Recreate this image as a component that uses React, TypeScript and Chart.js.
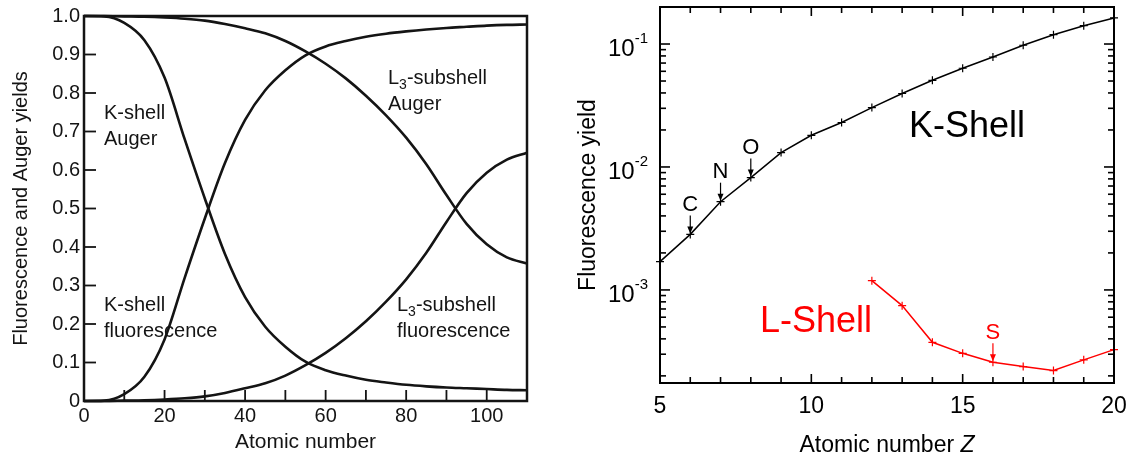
import React, { useEffect, useRef } from 'react';
import { Chart, registerables } from 'chart.js';

Chart.register(...registerables);

const FONT = '"Liberation Sans", Arial, Helvetica, sans-serif';
const INK = '#141414';
const RED = '#ff0000';

// ---------- Left panel: yields vs atomic number ----------
const zLeft = [0, 5, 10, 15, 20, 25, 30, 35, 40, 45, 50, 55, 60, 65, 70, 75, 80, 85, 90, 95, 100, 105, 110];
const kShellFluorescence = [0, 0.001, 0.018, 0.063, 0.16, 0.32, 0.474, 0.618, 0.73, 0.807, 0.859, 0.898, 0.921, 0.935, 0.946, 0.954, 0.96, 0.965, 0.969, 0.972, 0.975, 0.977, 0.978];
const kShellAuger = [1, 0.999, 0.982, 0.937, 0.84, 0.68, 0.526, 0.382, 0.27, 0.193, 0.141, 0.102, 0.08, 0.066, 0.055, 0.048, 0.042, 0.038, 0.035, 0.033, 0.031, 0.029, 0.028];
const l3Fluorescence = [0, 0, 0.001, 0.002, 0.004, 0.007, 0.012, 0.021, 0.033, 0.046, 0.066, 0.093, 0.125, 0.163, 0.207, 0.258, 0.316, 0.385, 0.465, 0.54, 0.593, 0.627, 0.645];
const l3Auger = [1, 1, 0.999, 0.998, 0.996, 0.993, 0.988, 0.979, 0.968, 0.955, 0.935, 0.908, 0.876, 0.838, 0.793, 0.742, 0.684, 0.615, 0.535, 0.46, 0.407, 0.373, 0.357];
const leftXLabels = [0, 20, 40, 60, 80, 100];
const leftXTicks = [10, 20, 30, 40, 50, 60, 70, 80, 90, 100];
const leftYLabels = [0, 0.1, 0.2, 0.3, 0.4, 0.5, 0.6, 0.7, 0.8, 0.9, 1.0];

// ---------- Right panel: fluorescence yield, log scale ----------
const zK = [5, 6, 7, 8, 9, 10, 11, 12, 13, 14, 15, 16, 17, 18, 19, 20];
const kShellYield = [0.0017, 0.00283, 0.00522, 0.0082, 0.0131, 0.0181, 0.023, 0.0304, 0.0396, 0.0507, 0.0635, 0.0784, 0.0977, 0.119, 0.141, 0.163];
const zL = [12, 13, 14, 15, 16, 17, 18, 19, 20];
const lShellYield = [0.00119, 0.000745, 0.000375, 0.000305, 0.000258, 0.000238, 0.000221, 0.00027, 0.000327];
const rightXLabels = [5, 10, 15, 20];
const rightDecades = [1e-3, 1e-2, 1e-1];
const rightDecadeExponents = ['-3', '-2', '-1'];
const rightMinorDecades = [1e-4, 1e-3, 1e-2, 1e-1];
const rightMinorMultipliers = [2, 3, 4, 5, 6, 7, 8, 9];
const markLabels = ['C', 'N', 'O', 'S'];
const markZ = [6, 7, 8, 16];
const markShell = ['K', 'K', 'K', 'L'];

function line(ctx: CanvasRenderingContext2D, x1: number, y1: number, x2: number, y2: number) {
  ctx.beginPath();
  ctx.moveTo(x1, y1);
  ctx.lineTo(x2, y2);
  ctx.stroke();
}

function drawSubLabel(ctx: CanvasRenderingContext2D, x: number, y: number, size: number) {
  // "L3-subshell" with subscript 3
  ctx.textAlign = 'left';
  ctx.textBaseline = 'alphabetic';
  ctx.font = `${size}px ${FONT}`;
  ctx.fillText('L', x, y);
  let w = ctx.measureText('L').width;
  ctx.font = `${Math.round(size * 0.68)}px ${FONT}`;
  ctx.fillText('3', x + w, y + 5);
  w += ctx.measureText('3').width;
  ctx.font = `${size}px ${FONT}`;
  ctx.fillText('-subshell', x + w, y);
}

const leftDecor = {
  id: 'leftDecor',
  afterDraw(chart: any) {
    const { ctx, chartArea: a, scales } = chart;
    const x = scales.x;
    const y = scales.y;
    ctx.save();
    ctx.strokeStyle = INK;
    ctx.lineWidth = 2.5;
    ctx.strokeRect(a.left, a.top, a.right - a.left, a.bottom - a.top);
    ctx.lineWidth = 1.8;
    for (const v of leftYLabels) {
      const py = y.getPixelForValue(v);
      line(ctx, a.left, py, a.left + 12, py);
    }
    for (const v of leftXTicks) {
      const px = x.getPixelForValue(v);
      line(ctx, px, a.bottom, px, a.bottom - 11);
    }
    ctx.fillStyle = INK;
    const fs = 20;
    ctx.textAlign = 'left';
    ctx.textBaseline = 'alphabetic';
    ctx.font = `${fs}px ${FONT}`;
    ctx.fillText('K-shell', 104, 119);
    ctx.fillText('Auger', 104, 145);
    ctx.fillText('K-shell', 104, 311);
    ctx.fillText('fluorescence', 104, 337);
    drawSubLabel(ctx, 388, 84, fs);
    ctx.font = `${fs}px ${FONT}`;
    ctx.fillText('Auger', 388, 110);
    drawSubLabel(ctx, 397, 311, fs);
    ctx.font = `${fs}px ${FONT}`;
    ctx.fillText('fluorescence', 397, 337);
    // axis titles
    ctx.textAlign = 'center';
    ctx.font = `21px ${FONT}`;
    ctx.fillText('Atomic number', (a.left + a.right) / 2, 448);
    ctx.save();
    ctx.translate(26.5, (a.top + a.bottom) / 2);
    ctx.rotate(-Math.PI / 2);
    ctx.font = `20px ${FONT}`;
    ctx.fillText('Fluorescence and Auger yields', 0, 0);
    ctx.restore();
    ctx.restore();
  },
};

const rightDecor = {
  id: 'rightDecor',
  afterDraw(chart: any) {
    const { ctx, chartArea: a, scales } = chart;
    const x = scales.x;
    const y = scales.y;
    ctx.save();
    ctx.strokeStyle = '#000';
    ctx.lineWidth = 2;
    ctx.strokeRect(a.left, a.top, a.right - a.left, a.bottom - a.top);
    // x ticks
    ctx.lineWidth = 1.6;
    for (let v = x.min; v <= x.max; v += 1) {
      const px = x.getPixelForValue(v);
      const len = rightXLabels.includes(v) ? 9 : 6;
      line(ctx, px, a.bottom, px, a.bottom - len);
      line(ctx, px, a.top, px, a.top + len);
    }
    // y ticks
    for (const d of rightDecades) {
      const py = y.getPixelForValue(d);
      line(ctx, a.left, py, a.left + 10, py);
      line(ctx, a.right, py, a.right - 10, py);
    }
    for (const d of rightMinorDecades) {
      for (const m of rightMinorMultipliers) {
        const v = d * m;
        if (v < y.min || v > y.max) continue;
        const py = y.getPixelForValue(v);
        line(ctx, a.left, py, a.left + 6, py);
        line(ctx, a.right, py, a.right - 6, py);
      }
    }
    ctx.fillStyle = '#000';
    ctx.textBaseline = 'alphabetic';
    // x tick labels
    ctx.font = `23px ${FONT}`;
    ctx.textAlign = 'center';
    for (const v of rightXLabels) {
      ctx.fillText(String(v), x.getPixelForValue(v), a.bottom + 30);
    }
    // decade labels
    rightDecades.forEach((d, i) => {
      const py = y.getPixelForValue(d);
      const right = a.left - 12;
      ctx.font = `15px ${FONT}`;
      const sw = ctx.measureText(rightDecadeExponents[i]).width;
      ctx.textAlign = 'right';
      ctx.fillText(rightDecadeExponents[i], right, py - 1);
      ctx.font = `24px ${FONT}`;
      ctx.fillText('10', right - sw, py + 12);
    });
    // axis titles
    ctx.font = `23px ${FONT}`;
    const t1 = 'Atomic number ';
    const w1 = ctx.measureText(t1).width;
    ctx.font = `italic 23px ${FONT}`;
    const w2 = ctx.measureText('Z').width;
    const cx = (a.left + a.right) / 2;
    const start = cx - (w1 + w2) / 2;
    ctx.textAlign = 'left';
    ctx.font = `23px ${FONT}`;
    ctx.fillText(t1, start, 452);
    ctx.font = `italic 23px ${FONT}`;
    ctx.fillText('Z', start + w1, 452);
    ctx.save();
    ctx.translate(35, (a.top + a.bottom) / 2);
    ctx.rotate(-Math.PI / 2);
    ctx.textAlign = 'center';
    ctx.font = `23px ${FONT}`;
    ctx.fillText('Fluorescence yield', 0, 0);
    ctx.restore();
    // shell labels
    ctx.textAlign = 'center';
    ctx.font = `36px ${FONT}`;
    ctx.fillStyle = '#000';
    ctx.fillText('K-Shell', 407, 136.5);
    ctx.fillStyle = RED;
    ctx.fillText('L-Shell', 256, 331.5);
    // element markers with arrows
    markLabels.forEach((lab, i) => {
      const z = markZ[i];
      const isK = markShell[i] === 'K';
      const val = isK ? kShellYield[zK.indexOf(z)] : lShellYield[zL.indexOf(z)];
      const px = x.getPixelForValue(z);
      const py = y.getPixelForValue(val);
      const col = isK ? '#000' : RED;
      ctx.strokeStyle = col;
      ctx.fillStyle = col;
      ctx.lineWidth = 1.2;
      line(ctx, px, py - 19, px, py - 7);
      ctx.beginPath();
      ctx.moveTo(px - 3, py - 8);
      ctx.lineTo(px + 3, py - 8);
      ctx.lineTo(px, py - 1);
      ctx.closePath();
      ctx.fill();
      ctx.font = `22px ${FONT}`;
      ctx.textAlign = 'center';
      ctx.fillText(lab, px, py - 23.5);
    });
    ctx.restore();
  },
};

function LeftPanel() {
  const ref = useRef<HTMLCanvasElement>(null);
  useEffect(() => {
    const series = [kShellAuger, kShellFluorescence, l3Auger, l3Fluorescence];
    const chart = new Chart(ref.current as HTMLCanvasElement, {
      type: 'line',
      data: {
        datasets: series.map((s, k) => ({
          label: ['K Auger', 'K fluorescence', 'L3 Auger', 'L3 fluorescence'][k],
          data: zLeft.map((z, i) => ({ x: z, y: s[i] })),
          borderColor: INK,
          borderWidth: 2.6,
          pointRadius: 0,
          fill: false,
          cubicInterpolationMode: 'monotone',
          clip: false,
        })),
      } as any,
      options: {
        animation: false,
        responsive: false,
        events: [],
        layout: { padding: { left: 0, right: 33, top: 12, bottom: 0 } },
        plugins: { legend: { display: false }, tooltip: { enabled: false } },
        scales: {
          x: {
            type: 'linear',
            min: 0,
            max: 110,
            grid: { display: false, drawTicks: false },
            border: { display: false },
            afterFit: (s: any) => { s.height = 55; },
            afterBuildTicks: (s: any) => { s.ticks = leftXLabels.map((v) => ({ value: v })); },
            ticks: { font: { family: FONT, size: 20 }, color: INK, padding: 3, maxRotation: 0, autoSkip: false },
          },
          y: {
            type: 'linear',
            min: 0,
            max: 1,
            grid: { display: false, drawTicks: false },
            border: { display: false },
            afterFit: (s: any) => { s.width = 84; },
            afterBuildTicks: (s: any) => { s.ticks = leftYLabels.map((v) => ({ value: v })); },
            ticks: {
              font: { family: FONT, size: 20 },
              color: INK,
              padding: 4,
              autoSkip: false,
              callback: (v: any) => (Number(v) === 0 ? '0' : Number(v).toFixed(1)),
            },
          },
        },
      } as any,
      plugins: [leftDecor],
    });
    return () => chart.destroy();
  }, []);
  return <canvas ref={ref} width={560} height={456} style={{ position: 'absolute', left: 0, top: 0, width: 560, height: 456 }} />;
}

function RightPanel() {
  const ref = useRef<HTMLCanvasElement>(null);
  useEffect(() => {
    const chart = new Chart(ref.current as HTMLCanvasElement, {
      type: 'line',
      data: {
        datasets: [
          {
            label: 'K-Shell',
            data: zK.map((z, i) => ({ x: z, y: kShellYield[i] })),
            borderColor: '#000',
            borderWidth: 1.5,
            pointStyle: 'cross',
            pointRadius: 4,
            pointBorderWidth: 1.2,
            pointBorderColor: '#000',
            tension: 0,
            fill: false,
            clip: false,
          },
          {
            label: 'L-Shell',
            data: zL.map((z, i) => ({ x: z, y: lShellYield[i] })),
            borderColor: RED,
            borderWidth: 1.5,
            pointStyle: 'cross',
            pointRadius: 4,
            pointBorderWidth: 1.2,
            pointBorderColor: RED,
            tension: 0,
            fill: false,
            clip: false,
          },
        ],
      } as any,
      options: {
        animation: false,
        responsive: false,
        events: [],
        layout: { padding: { left: 0, right: 20, top: 7, bottom: 0 } },
        plugins: { legend: { display: false }, tooltip: { enabled: false } },
        scales: {
          x: {
            type: 'linear',
            min: 5,
            max: 20,
            grid: { display: false, drawTicks: false },
            border: { display: false },
            ticks: { display: false },
            afterFit: (s: any) => { s.height = 73; s.paddingLeft = 0; s.paddingRight = 0; },
          },
          y: {
            type: 'logarithmic',
            min: 0.000175,
            max: 0.2,
            grid: { display: false, drawTicks: false },
            border: { display: false },
            ticks: { display: false },
            afterFit: (s: any) => { s.width = 100; s.paddingTop = 0; s.paddingBottom = 0; },
          },
        },
      } as any,
      plugins: [rightDecor],
    });
    return () => chart.destroy();
  }, []);
  return <canvas ref={ref} width={574} height={456} style={{ position: 'absolute', left: 560, top: 0, width: 574, height: 456 }} />;
}

export default function App() {
  return (
    <div style={{ position: 'fixed', left: 0, top: 0, width: 1134, height: 456, background: '#fff', overflow: 'hidden' }}>
      <LeftPanel />
      <RightPanel />
    </div>
  );
}
